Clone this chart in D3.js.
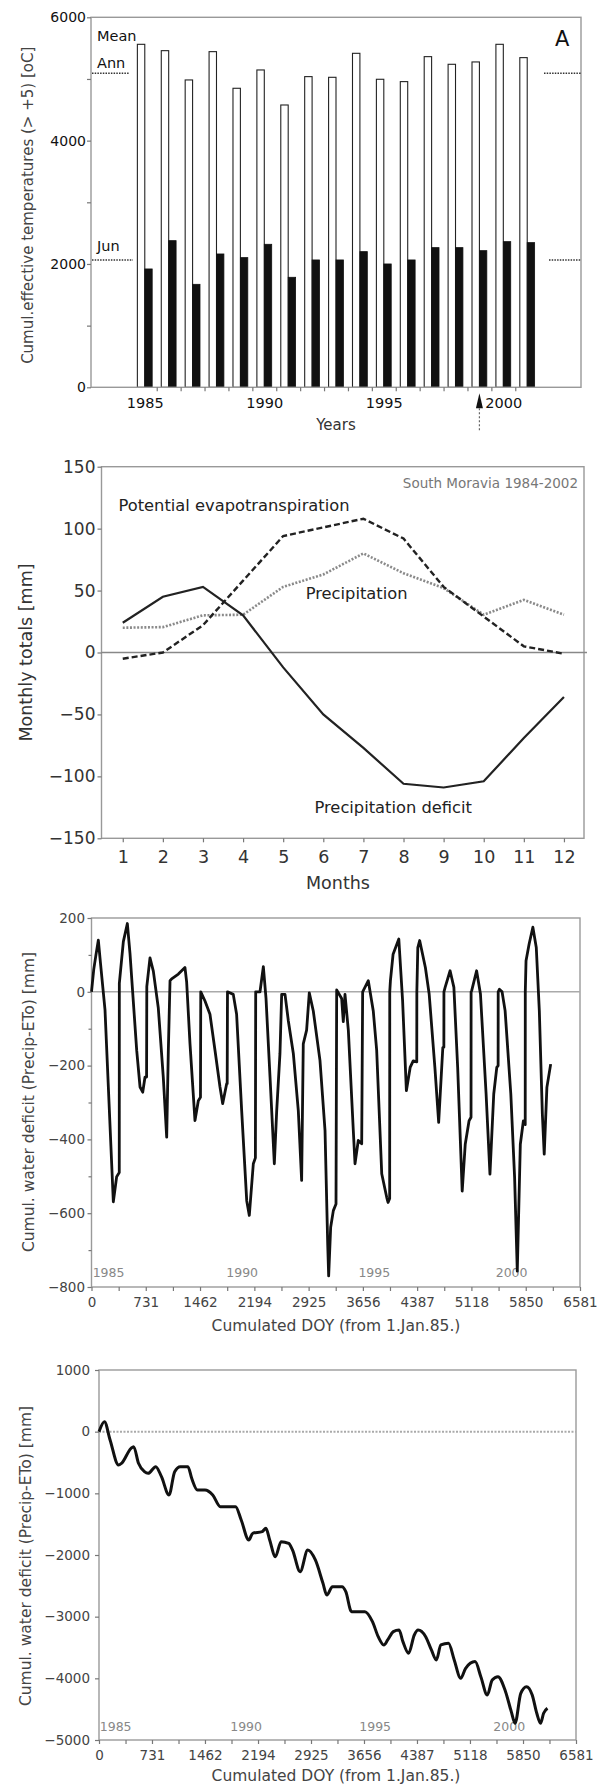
<!DOCTYPE html>
<html><head><meta charset="utf-8">
<script src="https://cdnjs.cloudflare.com/ajax/libs/d3/7.8.5/d3.min.js"></script>
<style>body{margin:0;background:#fff}svg{display:block}text{font-family:"DejaVu Sans",sans-serif}</style>
</head><body><svg id="c" width="597" height="1787"></svg>
<script>
// ---------- Panel 1 data ----------
const yearList = [1985,1986,1987,1988,1989,1990,1991,1992,1993,1994,1995,1996,1997,1998,1999,2000,2001];
const annualTemp = [5562,5459,4984,5443,4849,5146,4578,5038,5027,5416,4995,4957,5362,5238,5276,5562,5346];
const juneTemp   = [1919,2378,1670,2162,2103,2319,1784,2065,2065,2200,2000,2065,2265,2265,2216,2362,2346];
const meanAnn = 5092, meanJun = 2065;
const p1YTicks = [0,2000,4000,6000];
const p1XLabels = [1985,1990,1995,2000];
const markedYear = 1999;

// ---------- Panel 2 data ----------
const months = [1,2,3,4,5,6,7,8,9,10,11,12];
const precipDeficit = [24,45,53,30,-12,-50,-77,-106,-109,-104,-69,-36];
const potentialET   = [-5,0,22,58,94,101,108,92,53,29,5,-1];
const precipitation = [20,20.5,30,30.5,53,63,80,64,52,30.5,42.5,30.5];
const p2YTicks = [-150,-100,-50,0,50,100,150];

// ---------- Panel 3 data (yearly reset cumulative balance) ----------
const wbDay = [0,30,60,92,120,182,294,339,374,
 375,429,483,519,609,654,690,721,742,
 745,788,833,900,967,1013,1035,1058,1080,1170,1259,1282,1327,1394,1439,1468,
 1472,1529,1596,1664,1731,1767,1821,1828,
 1832,1910,1955,2023,2091,2126,2180,2208,
 2212,2270,2315,2351,2405,2463,2495,2539,2562,2607,2652,2719,2786,2831,2853,2898,
 2934,2988,3078,3146,3182,3195,3222,3258,3294,
 3303,3370,3392,3415,3460,3527,3550,3594,3640,
 3653,3729,3796,3842,3910,3977,3995,4017,
 4018,4027,4063,4140,4191,4242,4293,4334,4382,
 4383,4396,4421,4498,4549,4626,4677,4713,4733,4747,
 4748,4764,4831,4882,4933,4994,5035,5086,5113,
 5114,5122,5188,5240,5316,5368,5419,5460,5478,
 5479,5495,5531,5572,5649,5700,5736,5777,5818,5843,
 5844,5854,5895,5946,5992,6033,6074,6099,6135,6186];
const wbValue = [0,60,100,140,80,-49,-569,-501,-490,
 23,136,185,103,-159,-258,-272,-231,-231,
 14,92,56,-44,-231,-394,-159,30,35,48,66,26,-141,-349,-295,-286,
 0,-25,-61,-159,-258,-303,-249,-249,
 0,-7,-61,-322,-566,-606,-466,-450,
 0,0,68,-18,-231,-466,-322,-167,-7,-7,-79,-167,-322,-511,-141,-104,
 -3,-52,-186,-376,-683,-770,-638,-593,-575,
 5,-18,-81,-7,-104,-376,-466,-403,-412,
 0,30,-52,-159,-493,-557,-571,-560,
 0,30,102,143,-24,-268,-205,-187,-190,
 0,120,139,66,-6,-205,-354,-223,-151,-150,
 0,12,57,12,-205,-540,-413,-350,-340,
 0,3,57,-6,-277,-494,-277,-205,-200,
 0,7,0,-51,-277,-503,-757,-413,-350,-360,
 0,84,129,175,120,-51,-332,-440,-259,-196];

// ---------- Panel 4 data (continuous cumulative balance) ----------
const cumDay = [0,75,153,269,311,442,478,545,627,678,783,862,966,1044,1122,1227,1279,1358,1462,1569,1674,1779,1884,1962,2067,2120,2251,2303,2355,2434,2512,2617,2670,2775,2880,2985,3090,3143,3221,3353,3405,3484,3563,3668,3773,3852,3930,3983,4061,4140,4193,4271,4350,4402,4507,4586,4654,4717,4822,4901,4990,5058,5189,5268,5357,5425,5504,5609,5688,5740,5819,5898,5977,6040,6092,6134,6187];
const cumValue = [0,162,-135,-540,-513,-270,-243,-513,-649,-676,-567,-730,-1027,-649,-567,-567,-757,-946,-946,-1027,-1216,-1216,-1216,-1432,-1757,-1648,-1621,-1567,-1757,-2027,-1784,-1811,-1919,-2270,-1919,-2081,-2459,-2649,-2514,-2514,-2595,-2919,-2919,-2919,-3081,-3324,-3459,-3378,-3243,-3216,-3405,-3594,-3297,-3216,-3324,-3540,-3702,-3459,-3432,-3702,-3999,-3837,-3729,-3973,-4270,-4027,-3973,-4216,-4540,-4729,-4243,-4135,-4270,-4567,-4729,-4567,-4486];

const doyTicks = [0,731,1462,2194,2925,3656,4387,5118,5850,6581];
const doyMinor = [366,1097,1828,2559,3290,4021,4752,5484,6215];
const p3YTicks = [200,0,-200,-400,-600,-800];
const p3YMinor = [100,-100,-300,-500,-700];
const p4YTicks = [1000,0,-1000,-2000,-3000,-4000,-5000];
const yearMarks = ["1985","1990","1995","2000"];
const yearMarkDays = [230,2030,3810,5660];

const FONT = "DejaVu Sans";
const svg = d3.select("#c");
svg.append("rect").attr("width",597).attr("height",1787).attr("fill","#fff");

function styleAxis(g, fs, col){
  g.attr("font-size", fs).attr("font-family", FONT);
  g.select(".domain").remove();
  g.selectAll(".tick line").attr("stroke","#777").attr("stroke-width",1.2);
  g.selectAll(".tick text").attr("fill", col || "#222");
}
function frame(g, x, y, col){
  const [xa,xb]=x.range(), [ya,yb]=y.range();
  g.append("rect").attr("x",xa).attr("y",Math.min(ya,yb)).attr("width",xb-xa).attr("height",Math.abs(ya-yb))
   .attr("fill","none").attr("stroke",col||"#999").attr("stroke-width",1.4);
}
function yTitle(g, txt, cx, cy, fs, col){
  g.append("text").attr("transform",`translate(${cx},${cy}) rotate(-90)`).attr("text-anchor","middle")
   .attr("dy","0.35em").attr("font-size",fs).attr("fill",col||"#333").text(txt);
}

// ================= Panel 1 =================
{
const x1 = d3.scaleLinear().domain([1982.75, 2003.25]).range([91, 581]);
const y1 = d3.scaleLinear().domain([0, 6000]).range([387.3, 17.3]);
const g = svg.append("g");
const bw = (x1(1) - x1(0)) * 0.31;
g.selectAll(".ann").data(yearList).join("rect")
  .attr("x", d => x1(d) - bw).attr("y", (d,i) => y1(annualTemp[i]))
  .attr("width", bw).attr("height", (d,i) => y1(0) - y1(annualTemp[i]))
  .attr("fill","#fff").attr("stroke","#222").attr("stroke-width",1.1);
g.selectAll(".jun").data(yearList).join("rect")
  .attr("x", d => x1(d)).attr("y", (d,i) => y1(juneTemp[i]))
  .attr("width", bw).attr("height", (d,i) => y1(0) - y1(juneTemp[i]))
  .attr("fill","#111").attr("stroke","#111").attr("stroke-width",0.8);
frame(g, x1, y1, "#999");
const [xa, xb] = x1.range();
[meanAnn, meanJun].forEach((v,i) => {
  g.append("line").attr("x1",xa+1).attr("x2",xa+(i?42:38)).attr("y1",y1(v)).attr("y2",y1(v))
   .attr("stroke","#333").attr("stroke-width",1.6).attr("stroke-dasharray","1.5,1.2");
  g.append("line").attr("x1",xb-(i?32:37)).attr("x2",xb).attr("y1",y1(v)).attr("y2",y1(v))
   .attr("stroke","#333").attr("stroke-width",1.6).attr("stroke-dasharray","1.5,1.2");
});
g.append("text").attr("x",xa+6).attr("y",y1(meanAnn)-32).attr("font-size",14.5).attr("fill","#111").text("Mean");
g.append("text").attr("x",xa+6).attr("y",y1(meanAnn)-5).attr("font-size",14.5).attr("fill","#111").text("Ann");
g.append("text").attr("x",xa+6).attr("y",y1(meanJun)-9).attr("font-size",14.5).attr("fill","#111").text("Jun");
g.append("text").attr("x",xb-26).attr("y",y1(5650)+7).attr("font-size",21).attr("fill","#111").text("A");
g.append("g").attr("transform",`translate(${xa},0)`)
  .call(d3.axisLeft(y1).tickValues(d3.range(0,6001,1000)).tickSize(4).tickPadding(1)
    .tickFormat(d => p1YTicks.includes(d) ? d : ""))
  .call(s => styleAxis(s, 14, "#111"));
g.append("g").attr("transform",`translate(0,${y1(0)})`)
  .call(d3.axisBottom(x1).tickValues(d3.range(1985.5, 2001, 1)).tickSize(4).tickFormat(""))
  .call(s => styleAxis(s, 14));
g.append("g").attr("transform",`translate(0,${y1(0)})`)
  .call(d3.axisBottom(x1).tickValues(p1XLabels).tickSize(0).tickPadding(10).tickFormat(d3.format("d")))
  .call(s => styleAxis(s, 14.5, "#111"));
// arrow marking 1999
const ax = x1(markedYear), ay = y1(0);
g.append("path").attr("d",`M${ax},${ay+6}L${ax-3.5},${ay+21}L${ax+3.5},${ay+21}Z`).attr("fill","#111");
g.append("line").attr("x1",ax).attr("x2",ax).attr("y1",ay+21).attr("y2",ay+45)
  .attr("stroke","#666").attr("stroke-width",1.2).attr("stroke-dasharray","2,2");
g.append("text").attr("x",(xa+xb)/2).attr("y",430).attr("text-anchor","middle").attr("font-size",15).attr("fill","#333").text("Years");
yTitle(g, "Cumul.effective temperatures (> +5) [oC]", 28, (y1.range()[0]+y1.range()[1])/2+3, 15, "#444");
}

// ================= Panel 2 =================
{
const x2 = d3.scaleLinear().domain([0.47, 12.5]).range([101.5, 584]);
const y2 = d3.scaleLinear().domain([-150, 150]).range([838.3, 466.7]);
const g = svg.append("g");
frame(g, x2, y2, "#999");
g.append("line").attr("x1",x2.range()[0]).attr("x2",x2.range()[1]+3).attr("y1",y2(0)).attr("y2",y2(0))
  .attr("stroke","#888").attr("stroke-width",1.4);
const line = arr => d3.line().x((d,i)=>x2(months[i])).y((d,i)=>y2(arr[i]))(arr);
g.append("path").attr("d", line(precipitation)).attr("fill","none").attr("stroke","#8a8a8a")
  .attr("stroke-width",2.6).attr("stroke-dasharray","2,1.6");
g.append("path").attr("d", line(potentialET)).attr("fill","none").attr("stroke","#222")
  .attr("stroke-width",2.4).attr("stroke-dasharray","6,3");
g.append("path").attr("d", line(precipDeficit)).attr("fill","none").attr("stroke","#222")
  .attr("stroke-width",2.2);
g.append("g").attr("transform",`translate(${x2.range()[0]},0)`)
  .call(d3.axisLeft(y2).tickValues(p2YTicks).tickSize(4).tickPadding(2))
  .call(s => styleAxis(s, 17, "#333"));
g.append("g").attr("transform",`translate(0,${y2(-150)})`)
  .call(d3.axisBottom(x2).tickValues(months).tickSize(4).tickPadding(8))
  .call(s => styleAxis(s, 17.5, "#333"));
g.append("text").attr("x",338).attr("y",889).attr("text-anchor","middle").attr("font-size",17.5).attr("fill","#333").text("Months");
yTitle(g, "Monthly totals [mm]", 26, y2(0), 17.5, "#333");
g.append("text").attr("x",578).attr("y",488).attr("text-anchor","end").attr("font-size",13.5).attr("fill","#777").text("South Moravia 1984-2002");
g.append("text").attr("x",118.5).attr("y",511).attr("font-size",16.3).attr("fill","#222").text("Potential evapotranspiration");
g.append("text").attr("x",305.7).attr("y",599).attr("font-size",16.3).attr("fill","#222").text("Precipitation");
g.append("text").attr("x",314.5).attr("y",813).attr("font-size",16.3).attr("fill","#222").text("Precipitation deficit");
}

// ================= Panels 3 & 4 =================
function doyPanel(x, y, days, vals, yTicks, yMinor, zeroDash, curve, sw, yLabelCfg, labelY, xTitleY){
  const g = svg.append("g");
  frame(g, x, y, "#9a9a9a");
  g.append("line").attr("x1",x.range()[0]).attr("x2",x.range()[1]).attr("y1",y(0)).attr("y2",y(0))
    .attr("stroke","#aaa").attr("stroke-width",zeroDash?2:1.6).attr("stroke-dasharray",zeroDash||null);
  g.selectAll(".ym").data(yearMarks).join("text").attr("x",(d,i)=>x(yearMarkDays[i])).attr("y",labelY)
    .attr("text-anchor","middle").attr("font-size",12.5).attr("fill","#888").text(d=>d);
  g.append("path").attr("d", d3.line().curve(curve).x((d,i)=>x(days[i])).y((d,i)=>y(vals[i]))(vals))
    .attr("fill","none").attr("stroke","#111").attr("stroke-width",sw).attr("stroke-linejoin","round");
  g.append("g").attr("transform",`translate(${x.range()[0]},0)`)
    .call(d3.axisLeft(y).tickValues(yTicks).tickSize(4).tickPadding(yLabelCfg.pad).tickFormat(d3.format("d")))
    .call(s => styleAxis(s, 13.5, "#444"));
  if (yMinor) g.append("g").attr("transform",`translate(${x.range()[0]},0)`)
    .call(d3.axisLeft(y).tickValues(yMinor).tickSize(3).tickFormat(""))
    .call(s => styleAxis(s, 13.5));
  g.append("g").attr("transform",`translate(0,${y.range()[0]})`)
    .call(d3.axisBottom(x).tickValues(doyTicks).tickSize(4).tickPadding(6).tickFormat(d3.format("d")))
    .call(s => styleAxis(s, 13.5, "#444"));
  g.append("g").attr("transform",`translate(0,${y.range()[0]})`)
    .call(d3.axisBottom(x).tickValues(doyMinor).tickSize(4).tickFormat(""))
    .call(s => styleAxis(s, 13.5));
  g.append("text").attr("x",336).attr("y",xTitleY).attr("text-anchor","middle").attr("font-size",15.5).attr("fill","#444")
    .text("Cumulated DOY (from 1.Jan.85.)");
  yTitle(g, "Cumul. water deficit (Precip-ETo) [mm]", yLabelCfg.cx, yLabelCfg.cy, 15.5, "#444");
}
{
const x3 = d3.scaleLinear().domain([0, 6581]).range([91.5, 580]);
const y3 = d3.scaleLinear().domain([-800, 200]).range([1287, 918]);
doyPanel(x3, y3, wbDay, wbValue, p3YTicks, p3YMinor, null, d3.curveLinear, 2.8, {pad:2.5, cx:29, cy:1102}, 1277, 1330.5);
const x4 = d3.scaleLinear().domain([0, 6581]).range([99, 576]);
const y4 = d3.scaleLinear().domain([-5000, 1000]).range([1740, 1370]);
doyPanel(x4, y4, cumDay, cumValue, p4YTicks, null, "2,1.5", d3.curveMonotoneX, 3, {pad:5, cx:26, cy:1556}, 1731, 1781);
}
</script></body></html>
